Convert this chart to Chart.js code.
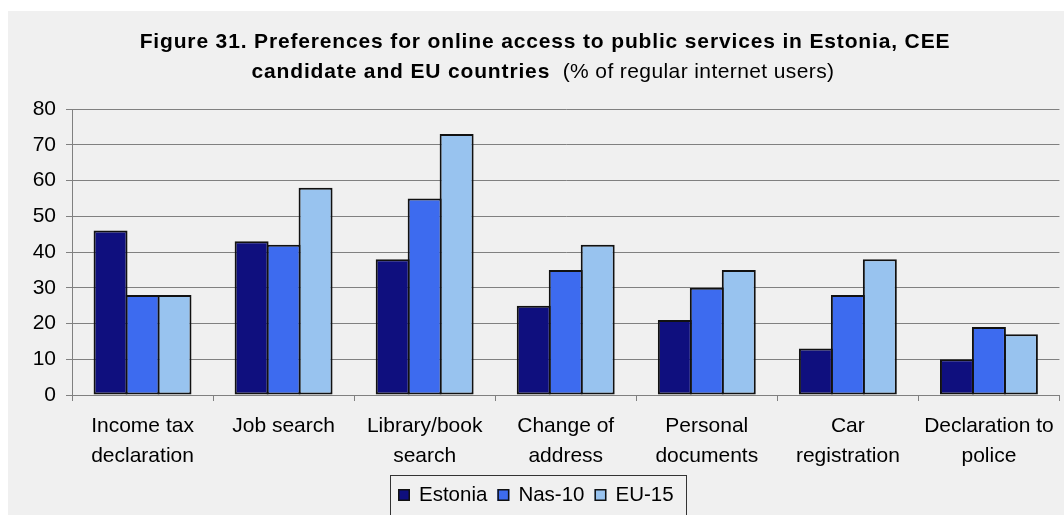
<!DOCTYPE html>
<html>
<head>
<meta charset="utf-8">
<script src="https://cdn.jsdelivr.net/npm/chart.js@4/dist/chart.umd.min.js"></script>
<style>
  html, body { margin: 0; padding: 0; background: #ffffff; }
  #wrap { width: 1064px; height: 515px; position: relative; }
</style>
</head>
<body>
<div id="wrap"><canvas id="chart" width="1064" height="515"></canvas></div>
<script>
// Categories (multi-line axis labels)
const categories = [
  ["Income tax", "declaration"],
  ["Job search"],
  ["Library/book", "search"],
  ["Change of", "address"],
  ["Personal", "documents"],
  ["Car", "registration"],
  ["Declaration to", "police"]
];

// Series values, % of regular internet users
const estonia = [46, 43, 38, 25, 21, 13, 10];
const nas10   = [28, 42, 55, 35, 30, 28, 19];
const eu15    = [28, 58, 73, 42, 35, 38, 17];

const seriesNames = ["Estonia", "Nas-10", "EU-15"];

// Y axis ticks
const yTicks = [0, 10, 20, 30, 40, 50, 60, 70, 80];

const titleLine1 = "Figure 31. Preferences for online access to public services in Estonia, CEE";
const titleLine2Bold = "candidate and EU countries";
const titleLine2Normal = "  (% of regular internet users)";

const FONT = "'Liberation Sans', Arial, sans-serif";
const colors = ["#0f0f7e", "#3d6bef", "#98c3ef"];

// Grey panel behind the whole chart
const panelPlugin = {
  id: 'panel',
  beforeDraw(chart) {
    const ctx = chart.ctx;
    ctx.save();
    ctx.fillStyle = '#f0f0f0';
    ctx.fillRect(8, 11, chart.width - 8, chart.height - 11);
    ctx.restore();
  }
};

// Two-line title with a bold part and a regular part on the second line
const titlePlugin = {
  id: 'mixedTitle',
  afterDraw(chart) {
    const ctx = chart.ctx;
    ctx.save();
    ctx.fillStyle = '#000';
    ctx.textBaseline = 'alphabetic';
    ctx.textAlign = 'left';
    const bold = "bold 21px " + FONT;
    const normal = "21px " + FONT;
    ctx.font = bold;
    ctx.letterSpacing = '0.85px';
    const w1 = ctx.measureText(titleLine1).width;
    ctx.fillText(titleLine1, 545 - w1 / 2, 48);
    const wb = ctx.measureText(titleLine2Bold).width;
    ctx.font = normal;
    ctx.letterSpacing = '0.4px';
    const wn = ctx.measureText(titleLine2Normal).width;
    const x2 = 543 - (wb + wn) / 2;
    ctx.font = bold;
    ctx.letterSpacing = '0.85px';
    ctx.fillText(titleLine2Bold, x2, 78);
    ctx.font = normal;
    ctx.letterSpacing = '0.4px';
    ctx.fillText(titleLine2Normal, x2 + wb, 78);
    ctx.restore();
  }
};

// Boxed legend at the bottom
const boxLegendPlugin = {
  id: 'boxLegend',
  afterDraw(chart) {
    const ctx = chart.ctx;
    ctx.save();
    ctx.font = "20.5px " + FONT;
    ctx.textBaseline = 'alphabetic';
    ctx.strokeStyle = '#333';
    ctx.lineWidth = 1;
    ctx.strokeRect(390.5, 475.5, 296, 60);
    let x = 398;
    chart.data.datasets.forEach((ds) => {
      ctx.fillStyle = ds.backgroundColor;
      ctx.fillRect(x, 489, 12, 12);
      ctx.strokeStyle = '#111';
      ctx.lineWidth = 1.5;
      ctx.strokeRect(x + 0.75, 489.75, 10.5, 10.5);
      ctx.fillStyle = '#000';
      ctx.fillText(ds.label, x + 21, 501);
      x += 21 + ctx.measureText(ds.label).width + 10;
    });
    ctx.restore();
  }
};

const seriesData = [estonia, nas10, eu15];

new Chart(document.getElementById('chart'), {
  type: 'bar',
  data: {
    labels: categories,
    datasets: seriesNames.map((name, i) => ({
      label: name,
      data: seriesData[i],
      backgroundColor: colors[i],
      borderColor: '#111111',
      borderWidth: 2,
      borderSkipped: false,
      barPercentage: 1.0625,
      categoryPercentage: 0.68
    }))
  },
  options: {
    responsive: false,
    animation: false,
    devicePixelRatio: 1,
    layout: { padding: { left: 0, right: 4, top: 109, bottom: 0 } },
    plugins: {
      legend: { display: false },
      title: { display: false },
      tooltip: { enabled: false }
    },
    scales: {
      x: {
        offset: true,
        grid: {
          display: true,
          offset: true,
          drawOnChartArea: false,
          drawTicks: true,
          tickLength: 6,
          color: '#808080',
          lineWidth: 1
        },
        border: { display: true, color: '#808080', width: 1 },
        ticks: {
          color: '#000',
          font: { family: FONT, size: 21, lineHeight: 30 / 21 },
          padding: 10,
          maxRotation: 0,
          autoSkip: false
        },
        afterFit(scale) { scale.height = 120; }
      },
      y: {
        min: 0,
        max: 80,
        afterBuildTicks(scale) { scale.ticks = yTicks.map(v => ({ value: v })); },
        grid: {
          color: '#808080',
          lineWidth: 1,
          drawTicks: true,
          tickLength: 6
        },
        border: { display: true, color: '#808080', width: 1 },
        ticks: {
          color: '#000',
          font: { family: FONT, size: 21 },
          padding: 10
        },
        afterFit(scale) { scale.width = 72; }
      }
    }
  },
  plugins: [panelPlugin, titlePlugin, boxLegendPlugin]
});
</script>
</body>
</html>
